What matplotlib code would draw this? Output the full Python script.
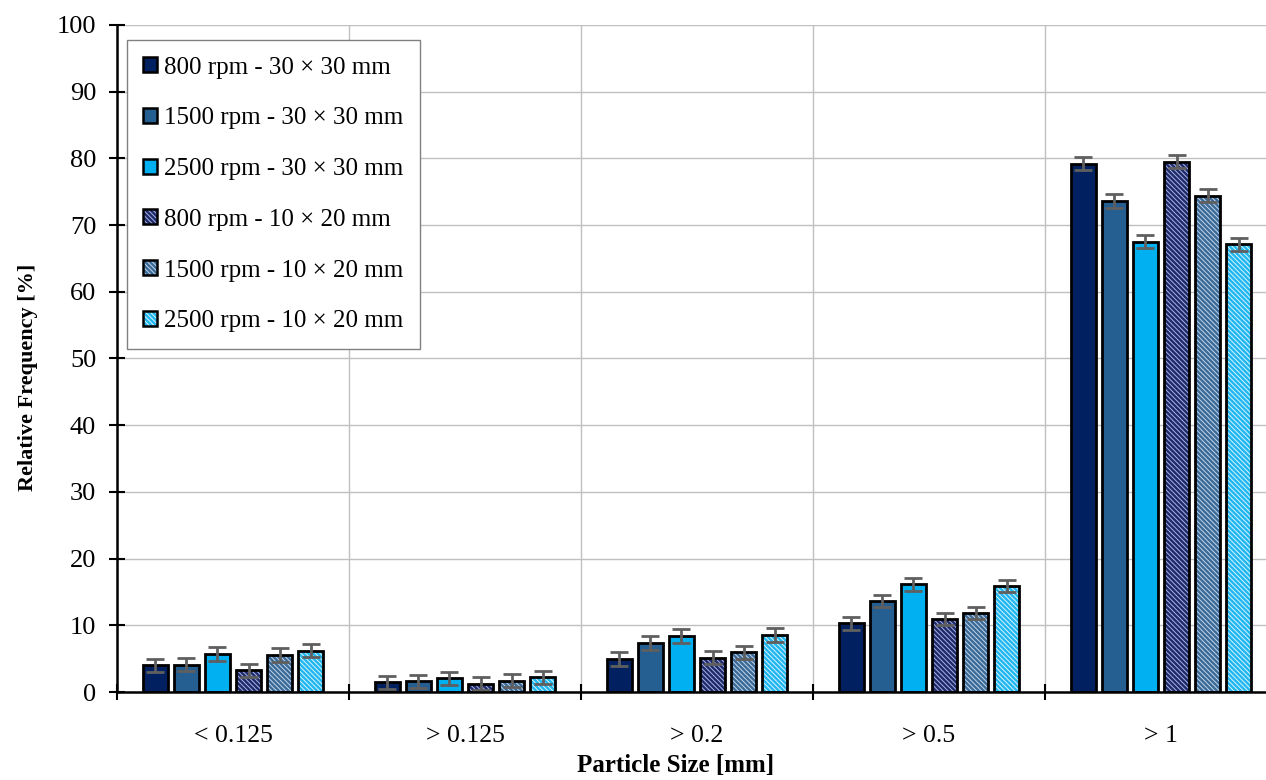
import numpy as np
import matplotlib
matplotlib.use('Agg')
import matplotlib.pyplot as plt
from matplotlib.patches import Patch

# Dati
categories = ['< 0.125', '> 0.125', '> 0.2', '> 0.5', '> 1']
series = ['800 rpm - 30 × 30 mm', '1500 rpm - 30 × 30 mm', '2500 rpm - 30 × 30 mm',
          '800 rpm - 10 × 20 mm', '1500 rpm - 10 × 20 mm', '2500 rpm - 10 × 20 mm']

v_800_30 = [4.0, 1.45, 4.9, 10.3, 79.2]
v_1500_30 = [4.1, 1.6, 7.35, 13.6, 73.6]
v_2500_30 = [5.7, 2.05, 8.4, 16.15, 67.5]
v_800_10 = [3.25, 1.25, 5.15, 10.95, 79.5]
v_1500_10 = [5.55, 1.7, 5.95, 11.85, 74.4]
v_2500_10 = [6.2, 2.2, 8.55, 15.9, 67.1]

e_800_30 = [1.0, 1.0, 1.05, 0.95, 1.0]
e_1500_30 = [1.0, 1.0, 1.0, 0.9, 1.0]
e_2500_30 = [1.0, 1.0, 1.0, 0.95, 1.0]
e_800_10 = [1.0, 1.0, 1.0, 0.95, 1.0]
e_1500_10 = [1.0, 1.0, 1.0, 0.95, 1.0]
e_2500_10 = [1.0, 1.0, 1.0, 0.95, 1.0]

values = [v_800_30, v_1500_30, v_2500_30, v_800_10, v_1500_10, v_2500_10]
errors = [e_800_30, e_1500_30, e_2500_30, e_800_10, e_1500_10, e_2500_10]

# Stile
face = ['#002060', '#255E91', '#00B0F0', '#1E2A6A', '#3A6A98', '#20B6F0']
stripe = [None, None, None, '#A8B4E0', '#C4D4E8', '#D8F4FF']
hatch = '\\' * 7

plt.rcParams['font.family'] = ['Liberation Serif', 'DejaVu Serif']
plt.rcParams['hatch.linewidth'] = 0.7

fig = plt.figure(figsize=(12.66, 7.8), dpi=100)
ax = fig.add_axes([0.0924, 0.1128, 0.9076, 0.8552])

x = np.arange(len(categories)) + 0.5
width = 0.108
step = 0.134

handles = []
for i in range(len(series)):
    xs = x + (i - 2.5) * step
    border = Patch(facecolor='none', edgecolor='black', linewidth=1.8)
    if stripe[i] is None:
        ax.bar(xs, values[i], width, color=face[i], edgecolor='black', linewidth=2, zorder=3)
        h = Patch(facecolor=face[i], edgecolor='black', linewidth=1.8)
    else:
        ax.bar(xs, values[i], width, color=face[i], edgecolor=stripe[i], hatch=hatch,
               linewidth=0, zorder=3)
        ax.bar(xs, values[i], width, color='none', edgecolor='black', linewidth=2, zorder=3.5)
        h = (Patch(facecolor=face[i], edgecolor=stripe[i], hatch=hatch, linewidth=0), border)
    ax.errorbar(xs, values[i], yerr=errors[i], fmt='none', ecolor='#5F5F5F',
                elinewidth=2, capsize=6.5, capthick=2, zorder=4)
    handles.append(h)

# Assi
ax.set_xlim(0, 1149 / 232)
ax.set_ylim(0, 100)
ax.set_yticks(np.arange(0, 101, 10))
ax.set_xticks(np.arange(0, 5))
ax.set_xticks(x, minor=True)
ax.set_xticklabels([])
ax.set_xticklabels(categories, minor=True)
ax.tick_params(axis='x', which='minor', length=0, pad=24, labelsize=18.5)
ax.tick_params(axis='x', which='major', direction='inout', length=12, width=1.5)
ax.tick_params(axis='y', direction='inout', length=12, width=1.5, labelsize=19, pad=9)

ax.grid(True, color='#C0C0C0', linewidth=1, zorder=0)
ax.set_axisbelow(True)
for s in ['top', 'right']:
    ax.spines[s].set_visible(False)
for s in ['left', 'bottom']:
    ax.spines[s].set_linewidth(1.8)
    ax.spines[s].set_zorder(5)

ax.set_xlabel('Particle Size [mm]', fontsize=18, fontweight='bold')
ax.xaxis.set_label_coords(0.4865, -0.093)
ax.set_ylabel('Relative Frequency [%]', fontsize=16, fontweight='bold')
ax.yaxis.set_label_coords(-0.069, 0.472)

leg = ax.legend(handles, series, loc='upper left', bbox_to_anchor=(0.0087, 0.977),
                fontsize=18, fancybox=False, edgecolor='#808080', framealpha=1,
                handlelength=0.55, handleheight=0.55, handletextpad=0.3,
                labelspacing=1.15, borderpad=0.65, borderaxespad=0)
leg.get_frame().set_linewidth(1.0)
leg.set_zorder(6)

plt.savefig('out.png', dpi=100)
